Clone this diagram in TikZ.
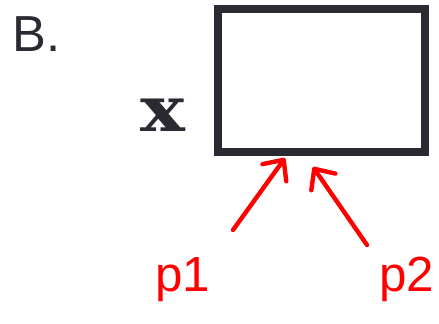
\documentclass[tikz,border=0pt]{standalone}
\usepackage{fontspec}
\setmainfont{Liberation Sans}
\newfontfamily\slabfont{DejaVu Serif}
\usetikzlibrary{arrows.meta}
\definecolor{ink}{HTML}{2A2A33}
\definecolor{pen}{HTML}{FF0000}
\begin{document}
\begin{tikzpicture}[x=0.75pt,y=-0.75pt,
  every node/.style={inner sep=0pt},
  redpen/.style={draw=pen,line width=3.3pt,line cap=round,-{Straight Barb[length=12pt,width=22pt,round]}},
  handlabel/.style={text=pen,font=\fontsize{37}{40}\selectfont,anchor=base}]
\useasboundingbox (0,0) rectangle (439,324);
% panel letter and input
\node[anchor=base west,text=ink,font=\fontsize{38}{42}\selectfont] (letter) at (12,52) {B.};
\node[draw=ink,line width=6pt,minimum width=155.25pt,minimum height=107.25pt] (box) at (321.5,80.5) {};
\node[text=ink,xscale=1.2,font=\slabfont\bfseries\fontsize{47}{50}\selectfont] (xin) at (163,115) {x};
% handwritten labels
\node[handlabel] (p1) at (183,291) {p1};
\node[handlabel] (p2) at (407,291) {p2};
% arrows into the box
\coordinate (t1) at ([shift={(-36.5,2)}]box.south);
\coordinate (t2) at ([shift={(-8.5,11)}]box.south);
\coordinate (s1) at (233,230);
\coordinate (s2) at (367,245);
\draw[redpen] (s1) -- (t1);
\draw[redpen] (s2) -- (t2);
\end{tikzpicture}
\end{document}
